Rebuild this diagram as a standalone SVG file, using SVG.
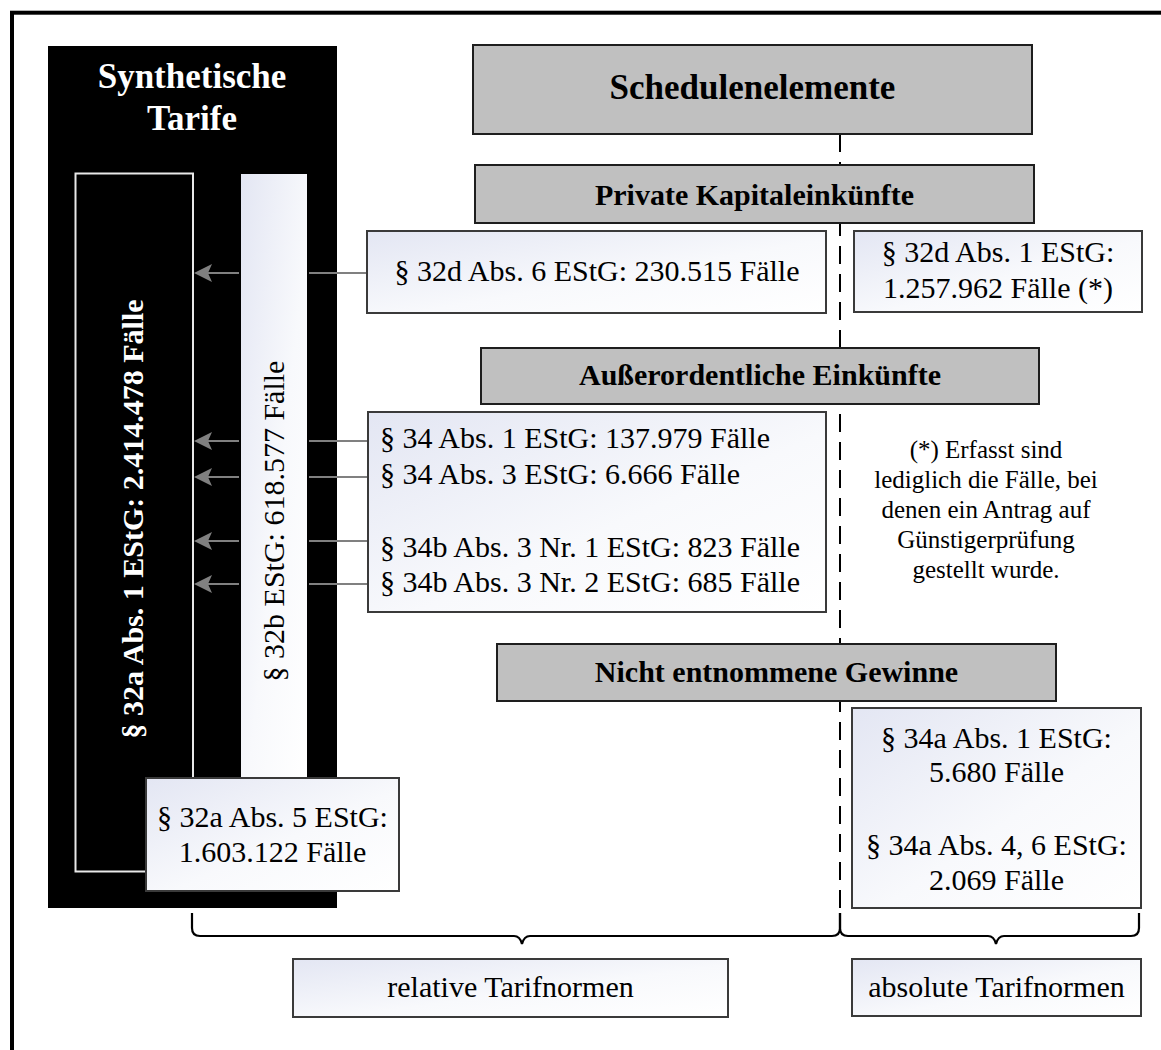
<svg xmlns="http://www.w3.org/2000/svg" width="1161" height="1050" viewBox="0 0 1161 1050">
<style>
.t{font-family:"Liberation Serif","Times New Roman",serif;font-size:30px;fill:#000}
.c{text-anchor:middle}
.b{font-weight:bold}
.box{fill:url(#g);stroke:#3a3a3a;stroke-width:2}
.hdr{fill:#c0c0c0;stroke:#1e1e1e;stroke-width:2}
.conn{fill:none;stroke:#808080;stroke-width:2.2}
.brace{fill:none;stroke:#000;stroke-width:2.2}
</style>
<defs>
<linearGradient id="g" x1="0" y1="0" x2="1" y2="1">
<stop offset="0" stop-color="#e3e6f3"/>
<stop offset="0.55" stop-color="#f8f9fc"/>
<stop offset="1" stop-color="#ffffff"/>
</linearGradient>
<marker id="ah" markerWidth="20" markerHeight="20" refX="16" refY="10" orient="auto" markerUnits="userSpaceOnUse">
<path d="M18,10 L0,1 L4,10 L0,19 Z" fill="#808080"/>
</marker>
</defs>
<rect x="12" y="12.7" width="1300" height="1200" fill="none" stroke="#000" stroke-width="4"/>

<g id="synthetische-tarife">
<rect x="48" y="46" width="289" height="862" fill="#000"/>
<text class="t c b" x="192" y="88" style="font-size:35px;fill:#fff">Synthetische</text>
<text class="t c b" x="192" y="130" style="font-size:35px;fill:#fff">Tarife</text>
</g>

<g id="p32a1">
<rect x="75.5" y="173.5" width="117.5" height="698" fill="#000" stroke="#e8e8e8" stroke-width="2"/>
<text class="t c b" transform="translate(143,519) rotate(-90)" style="fill:#fff">§ 32a Abs. 1 EStG: 2.414.478 Fälle</text>
</g>

<g id="connectors">
<path class="conn" d="M368,273 H309 M239,273 H196" marker-end="url(#ah)"/>
<path class="conn" d="M368,441 H309 M239,441 H196" marker-end="url(#ah)"/>
<path class="conn" d="M368,477 H309 M239,477 H196" marker-end="url(#ah)"/>
<path class="conn" d="M368,541 H309 M239,541 H196" marker-end="url(#ah)"/>
<path class="conn" d="M368,584 H309 M239,584 H196" marker-end="url(#ah)"/>
<path d="M840,134 V915" fill="none" stroke="#000" stroke-width="2" stroke-dasharray="18,10"/>
<path class="brace" d="M192,913 V928 Q192,936 200,936 H514 Q520,936 522,944 Q524,936 530,936 H832 Q840,936 840,928 V913"/>
<path class="brace" d="M840,913 V928 Q840,936 848,936 H988 Q994,936 996,944 Q998,936 1004,936 H1131 Q1139,936 1139,928 V913"/>
</g>

<g id="p32b">
<rect x="241" y="174" width="66" height="610" fill="url(#g)"/>
<text class="t c" transform="translate(284,521) rotate(-90)">§ 32b EStG: 618.577 Fälle</text>
</g>

<g id="p32a5">
<rect class="box" x="146" y="778" width="253" height="113"/>
<text class="t c" x="272.5" y="827">§ 32a Abs. 5 EStG:</text>
<text class="t c" x="272.5" y="862">1.603.122 Fälle</text>
</g>

<g id="schedulenelemente">
<rect class="hdr" x="473" y="45" width="559" height="89"/>
<text class="t c b" x="752.5" y="99" style="font-size:35px">Schedulenelemente</text>
</g>

<g id="private-kapitaleinkuenfte">
<rect class="hdr" x="475" y="165" width="559" height="58"/>
<text class="t c b" x="754.5" y="205">Private Kapitaleinkünfte</text>
</g>

<g id="p32d6">
<rect class="box" x="367" y="231" width="459" height="82"/>
<text class="t c" x="597" y="281">§ 32d Abs. 6 EStG: 230.515 Fälle</text>
</g>

<g id="p32d1">
<rect class="box" x="854" y="231" width="288" height="81"/>
<text class="t c" x="998" y="262">§ 32d Abs. 1 EStG:</text>
<text class="t c" x="998" y="298">1.257.962 Fälle (*)</text>
</g>

<g id="ausserordentliche-einkuenfte">
<rect class="hdr" x="481" y="348" width="558" height="56"/>
<text class="t c b" x="760" y="385">Außerordentliche Einkünfte</text>
</g>

<g id="p34">
<rect class="box" x="368" y="412" width="458" height="200"/>
<text class="t" x="380" y="448">§ 34 Abs. 1 EStG: 137.979 Fälle</text>
<text class="t" x="380" y="484">§ 34 Abs. 3 EStG: 6.666 Fälle</text>
<text class="t" x="380" y="557">§ 34b Abs. 3 Nr. 1 EStG: 823 Fälle</text>
<text class="t" x="380" y="592">§ 34b Abs. 3 Nr. 2 EStG: 685 Fälle</text>
</g>

<g id="footnote">
<text class="t c" x="986" y="458" style="font-size:25px">(*) Erfasst sind</text>
<text class="t c" x="986" y="488" style="font-size:25px">lediglich die Fälle, bei</text>
<text class="t c" x="986" y="518" style="font-size:25px">denen ein Antrag auf</text>
<text class="t c" x="986" y="548" style="font-size:25px">Günstigerprüfung</text>
<text class="t c" x="986" y="578" style="font-size:25px">gestellt wurde.</text>
</g>

<g id="nicht-entnommene-gewinne">
<rect class="hdr" x="497" y="644" width="559" height="57"/>
<text class="t c b" x="776.5" y="682">Nicht entnommene Gewinne</text>
</g>

<g id="p34a">
<rect class="box" x="852" y="708" width="289" height="200"/>
<text class="t c" x="996.5" y="748">§ 34a Abs. 1 EStG:</text>
<text class="t c" x="996.5" y="782">5.680 Fälle</text>
<text class="t c" x="996.5" y="855">§ 34a Abs. 4, 6 EStG:</text>
<text class="t c" x="996.5" y="890">2.069 Fälle</text>
</g>

<g id="relative-tarifnormen">
<rect class="box" x="293" y="959" width="435" height="58"/>
<text class="t c" x="510.5" y="997">relative Tarifnormen</text>
</g>

<g id="absolute-tarifnormen">
<rect class="box" x="852" y="959" width="289" height="57"/>
<text class="t c" x="996.5" y="997">absolute Tarifnormen</text>
</g>
</svg>
